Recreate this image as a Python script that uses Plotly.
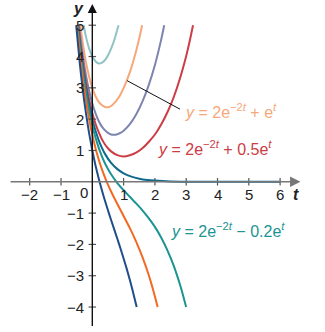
import plotly.graph_objects as go

# Curves y = 2e^{-2t} + C e^t
t_c2 = [-0.278, -0.2, -0.1, 0, 0.1, 0.2, 0.3, 0.4, 0.5, 0.6, 0.7, 0.8, 0.838]
y_c2 = [5.0, 4.62, 4.25, 4.0, 3.85, 3.78, 3.80, 3.88, 4.03, 4.25, 4.52, 4.86, 5.0]

t_c1 = [-0.385, -0.3, -0.2, -0.1, 0, 0.1, 0.2, 0.3, 0.4, 0.5, 0.6, 0.7, 0.8, 0.9, 1.0, 1.1, 1.2, 1.3, 1.4, 1.5, 1.592]
y_c1 = [5.0, 4.385, 3.80, 3.35, 3.0, 2.74, 2.56, 2.45, 2.39, 2.38, 2.42, 2.51, 2.63, 2.79, 2.99, 3.23, 3.50, 3.82, 4.18, 4.58, 5.0]

t_c05 = [-0.424, -0.4, -0.3, -0.2, -0.1, 0, 0.1, 0.2, 0.3, 0.4, 0.5, 0.6, 0.7, 0.8, 0.9, 1.0, 1.2, 1.4, 1.6, 1.8, 2.0, 2.2, 2.298]
y_c05 = [5.0, 4.79, 4.01, 3.39, 2.90, 2.5, 2.19, 1.95, 1.77, 1.65, 1.56, 1.51, 1.50, 1.52, 1.56, 1.63, 1.84, 2.15, 2.56, 3.08, 3.73, 4.54, 5.0]

t_c02 = [-0.445, -0.4, -0.3, -0.2, -0.1, 0, 0.1, 0.2, 0.3, 0.4, 0.5, 0.6, 0.8, 1.0, 1.2, 1.4, 1.6, 1.8, 2.0, 2.2, 2.4, 2.6, 2.8, 3.0, 3.1, 3.218]
y_c02 = [5.0, 4.59, 3.79, 3.15, 2.62, 2.2, 1.86, 1.59, 1.37, 1.20, 1.07, 0.97, 0.85, 0.81, 0.85, 0.93, 1.07, 1.27, 1.51, 1.83, 2.22, 2.70, 3.30, 4.02, 4.44, 5.0]

t_c0 = [-0.458, -0.4, -0.3, -0.2, -0.1, 0, 0.1, 0.2, 0.3, 0.4, 0.6, 0.8, 1.0, 1.25, 1.5, 1.75, 2.0, 2.5, 3.0, 4.0, 5.0, 6.0]
y_c0 = [5.0, 4.451, 3.644, 2.984, 2.443, 2.0, 1.637, 1.341, 1.098, 0.899, 0.602, 0.404, 0.271, 0.164, 0.100, 0.060, 0.037, 0.013, 0.005, 0.001, 0.0, 0.0]

t_cm02 = [-0.47, -0.4, -0.3, -0.2, -0.1, 0, 0.1, 0.2, 0.3, 0.4, 0.5, 0.6, 0.8, 1.0, 1.2, 1.4, 1.6, 1.8, 2.0, 2.2, 2.4, 2.6, 2.8, 2.9, 2.997]
y_cm02 = [5.0, 4.32, 3.50, 2.82, 2.26, 1.8, 1.42, 1.10, 0.83, 0.60, 0.41, 0.24, -0.04, -0.27, -0.48, -0.69, -0.91, -1.16, -1.44, -1.78, -2.19, -2.68, -3.28, -3.63, -4.0]

t_cm05 = [-0.488, -0.4, -0.3, -0.2, -0.1, 0, 0.1, 0.2, 0.3, 0.4, 0.5, 0.6, 0.8, 1.0, 1.2, 1.4, 1.6, 1.8, 1.9, 2.0, 2.088]
y_cm05 = [5.0, 4.12, 3.27, 2.57, 1.99, 1.5, 1.08, 0.73, 0.42, 0.15, -0.09, -0.31, -0.71, -1.09, -1.48, -1.91, -2.40, -2.97, -3.30, -3.66, -4.0]

t_cm1 = [-0.515, -0.4, -0.3, -0.2, -0.1, 0, 0.1, 0.2, 0.3, 0.4, 0.5, 0.6, 0.7, 0.8, 0.9, 1.0, 1.1, 1.2, 1.3, 1.4, 1.418]
y_cm1 = [5.0, 3.78, 2.90, 2.17, 1.54, 1.0, 0.53, 0.12, -0.25, -0.59, -0.91, -1.22, -1.52, -1.82, -2.13, -2.45, -2.78, -3.14, -3.52, -3.93, -4.0]

x_ticks = [-2, -1, 1, 2, 3, 4, 5, 6]
y_ticks = [-4, -3, -2, -1, 1, 2, 3, 4, 5]

curves = [
    (t_c2, y_c2, "#91c2c4"),
    (t_c1, y_c1, "#f7a87a"),
    (t_c05, y_c05, "#7c84b0"),
    (t_c02, y_c02, "#cd3d45"),
    (t_c0, y_c0, "#0f6a8e"),
    (t_cm02, y_cm02, "#1b9493"),
    (t_cm05, y_cm05, "#f26a22"),
    (t_cm1, y_cm1, "#1f4e8a"),
]

fig = go.Figure()
for tx, ty, col in curves:
    fig.add_trace(go.Scatter(x=tx, y=ty, mode="lines",
                             line=dict(color=col, width=2, shape="spline", smoothing=0.6),
                             hoverinfo="skip", showlegend=False))

shapes = []
ann = []
font = dict(family="Liberation Sans, Arial, sans-serif", size=15, color="#222")

# axes with arrows
ann.append(dict(x=6.65, y=0, ax=-2.66, ay=0, xref="x", yref="y", axref="x", ayref="y",
                showarrow=True, arrowhead=2, arrowsize=1.3, arrowwidth=1.6, arrowcolor="#777", text=""))
ann.append(dict(x=0, y=5.68, ax=0, ay=-4.65, xref="x", yref="y", axref="x", ayref="y",
                showarrow=True, arrowhead=2, arrowsize=1.3, arrowwidth=1.4, arrowcolor="#111", text=""))

for v in x_ticks:
    shapes.append(dict(type="line", x0=v, x1=v, y0=-0.12, y1=0.12, xref="x", yref="y",
                       line=dict(color="#555", width=1.2)))
    ann.append(dict(x=v, y=-0.41, text=("−" + str(-v)) if v < 0 else str(v), showarrow=False,
                    xref="x", yref="y", font=font))
for v in y_ticks:
    shapes.append(dict(type="line", x0=-0.12, x1=0.12, y0=v, y1=v, xref="x", yref="y",
                       line=dict(color="#555", width=1.2)))
    ann.append(dict(x=-0.19, y=v, text=("−" + str(-v)) if v < 0 else str(v), showarrow=False,
                    xref="x", yref="y", xanchor="right", font=font))
ann.append(dict(x=-0.27, y=-0.34, text="0", showarrow=False, xref="x", yref="y", font=font))

ann.append(dict(x=-0.45, y=5.52, text="<b><i>y</i></b>", showarrow=False, xref="x", yref="y",
                font=dict(family="Liberation Sans, Arial, sans-serif", size=16, color="#222")))
ann.append(dict(x=6.5, y=-0.40, text="<b><i>t</i></b>", showarrow=False, xref="x", yref="y",
                font=dict(family="Liberation Sans, Arial, sans-serif", size=16, color="#222")))

# pointer line
shapes.append(dict(type="line", x0=1.11, y0=3.23, x1=2.8, y1=2.32, xref="x", yref="y",
                   line=dict(color="#111", width=1)))

lab_font = dict(family="Liberation Sans, Arial, sans-serif", size=16)
ann.append(dict(x=2.9, y=2.27, text="<i>y</i> = 2e<sup>−2<i>t</i></sup> + e<sup><i>t</i></sup>",
                showarrow=False, xref="x", yref="y", xanchor="left",
                font=dict(lab_font, color="#f7a87a")))
ann.append(dict(x=2.03, y=1.08, text="<i>y</i> = 2e<sup>−2<i>t</i></sup> + 0.5e<sup><i>t</i></sup>",
                showarrow=False, xref="x", yref="y", xanchor="left",
                font=dict(lab_font, color="#cd3d45")))
ann.append(dict(x=2.45, y=-1.55, text="<i>y</i> = 2e<sup>−2<i>t</i></sup> − 0.2e<sup><i>t</i></sup>",
                showarrow=False, xref="x", yref="y", xanchor="left",
                font=dict(lab_font, color="#1b9493")))

fig.update_layout(
    width=325, height=332, margin=dict(l=0, r=0, t=0, b=0),
    paper_bgcolor="white", plot_bgcolor="white",
    xaxis=dict(range=[-2.949, 7.434], visible=False, fixedrange=True),
    yaxis=dict(range=[-4.797, 5.805], visible=False, fixedrange=True),
    shapes=shapes, annotations=ann, showlegend=False,
)
fig.write_html("out.html")
